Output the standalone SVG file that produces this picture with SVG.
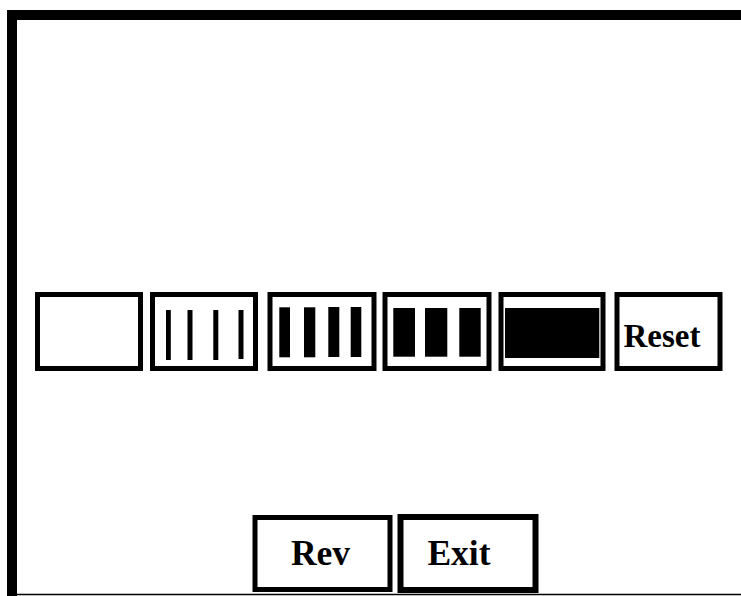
<svg xmlns="http://www.w3.org/2000/svg" width="741" height="596" viewBox="0 0 741 596">
<style>
.box{fill:#fff;stroke:#000;stroke-width:5}
.bar{fill:#000}
.lbl{font-family:"Liberation Serif","Times New Roman",serif;font-weight:bold;font-size:33px;fill:#000;text-anchor:middle}
.big{font-size:35.5px}
</style>
<rect width="741" height="596" fill="#fff"/>
<g id="frame">
<path d="M12,596 V15 H741" fill="none" stroke="#000" stroke-width="10"/>
<line x1="17" y1="594.5" x2="741" y2="594.5" stroke="#000" stroke-width="1.5"/>
</g>
<g id="level0">
<rect class="box" x="37.5" y="294.5" width="103" height="74"/>
</g>
<g id="level1">
<rect class="box" x="152.5" y="294.5" width="103" height="74"/>
<rect class="bar" x="166" y="310" width="4.8" height="50"/>
<rect class="bar" x="187.5" y="310" width="5" height="50"/>
<rect class="bar" x="213.3" y="310" width="5" height="50"/>
<rect class="bar" x="238.5" y="310" width="5" height="49"/>
</g>
<g id="level2">
<rect class="box" x="270" y="294.5" width="104" height="74"/>
<rect class="bar" x="279.3" y="307.3" width="10.7" height="50"/>
<rect class="bar" x="304" y="307.3" width="11.3" height="50"/>
<rect class="bar" x="328.3" y="307" width="11" height="50"/>
<rect class="bar" x="350.7" y="307" width="10.6" height="50"/>
</g>
<g id="level3">
<rect class="box" x="385" y="294.5" width="104" height="74"/>
<rect class="bar" x="393.3" y="308" width="21.7" height="48.7"/>
<rect class="bar" x="425" y="308" width="22.3" height="48.7"/>
<rect class="bar" x="459.3" y="308" width="21.4" height="48.7"/>
</g>
<g id="level4">
<rect class="box" x="501" y="294.5" width="102" height="74"/>
<rect class="bar" x="505" y="308" width="94.3" height="50"/>
</g>
<g id="reset">
<rect class="box" x="617" y="294.5" width="103" height="74"/>
<text class="lbl" x="662" y="347">Reset</text>
</g>
<g id="rev">
<rect class="box" x="255" y="517.5" width="135" height="72"/>
<text class="lbl big" x="320.5" y="565">Rev</text>
</g>
<g id="exit">
<rect class="box" x="400.5" y="517" width="135" height="73" style="stroke-width:6"/>
<text class="lbl big" x="459" y="565">Exit</text>
</g>
<g id="connectors"/>
</svg>
